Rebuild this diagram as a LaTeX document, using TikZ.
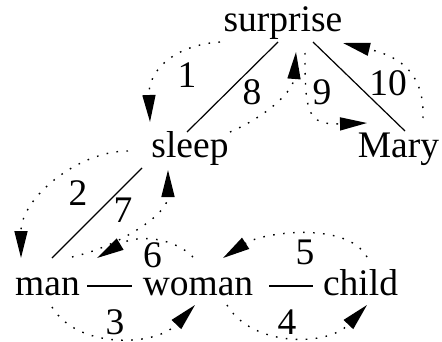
\documentclass[tikz,border=0pt]{standalone}
\usepackage{fontspec}
\setmainfont{Liberation Serif}
\usetikzlibrary{arrows.meta}
\begin{document}
\begin{tikzpicture}[x=1pt,y=1pt,
  word/.style={anchor=base,inner sep=0pt,font=\fontsize{37.5}{40}\selectfont},
  num/.style={inner sep=0pt,font=\fontsize{37.5}{40}\selectfont},
  link/.style={line width=1.2pt},
  move/.style={line width=1.4pt,dash pattern=on 1.6pt off 8.4pt,-{Triangle[length=27pt,width=13pt]}}]
\useasboundingbox (0,0) rectangle (442,341);
% words
\node[word] (surprise) at (283,309) {surprise};
\node[word] (sleep) at (190,184) {sleep};
\node[word] (Mary) at (398.5,184) {Mary};
\node[word] (man) at (47.5,46) {man};
\node[word] (woman) at (198,46) {woman};
\node[word] (child) at (360.5,46) {child};
% solid links
\draw[link] ([shift={(-5,-10)}]surprise.base) -- ([shift={(-3,25)}]sleep.base);
\draw[link] ([shift={(30,-10)}]surprise.base) -- ([shift={(6.5,26)}]Mary.base);
\draw[link] ([shift={(-48,-11)}]sleep.base) -- ([shift={(4.5,37)}]man.base);
\draw[link] ([shift={(39.5,9)}]man.base) -- ([shift={(-66,9)}]woman.base);
\draw[link] ([shift={(71,9)}]woman.base) -- ([shift={(-47.5,9)}]child.base);
% dotted moves
\draw[move] ([shift={(-63,-10)}]surprise.base) .. controls +(-45,-3) and +(-2,52) .. ([shift={(-40,35)}]sleep.base);
\draw[move] ([shift={(-62,6)}]sleep.base) .. controls +(-50,0) and +(0,60) .. ([shift={(-26.5,37)}]man.base);
\draw[move] ([shift={(4.5,-12)}]man.base) .. controls +(25,-42) and +(-40,-42) .. ([shift={(-3,-10)}]woman.base);
\draw[move] ([shift={(29,-10)}]woman.base) .. controls +(25,-42) and +(-40,-42) .. ([shift={(6.5,-10)}]child.base);
\draw[move] ([shift={(6.5,38)}]child.base) .. controls +(-20,36) and +(40,26) .. ([shift={(25,37)}]woman.base);
\draw[move] ([shift={(-5,38)}]woman.base) .. controls +(-20,20) and +(40,24) .. ([shift={(49.5,37)}]man.base);
\draw[move] ([shift={(24.5,38)}]man.base) .. controls +(45,10) and +(0,-45) .. ([shift={(-22,-13)}]sleep.base);
\draw[move] ([shift={(40,25)}]sleep.base) .. controls +(35,15) and +(-3,-40) .. ([shift={(13,-20)}]surprise.base);
\draw[move] ([shift={(22,-21)}]surprise.base) .. controls +(0,-60) and +(-60,-2) .. ([shift={(-31.5,34)}]Mary.base);
\draw[move] ([shift={(24.5,39)}]Mary.base) .. controls +(2,50) and +(50,-12) .. ([shift={(60,-11)}]surprise.base);
% labels
\node[num] (l1) at (187,266) {1};
\node[num] (l2) at (78,148) {2};
\node[num] (l3) at (115,19) {3};
\node[num] (l4) at (287,19) {4};
\node[num] (l5) at (305,89) {5};
\node[num] (l6) at (152.5,86) {6};
\node[num] (l7) at (123,131) {7};
\node[num] (l8) at (252,249) {8};
\node[num] (l9) at (322,249) {9};
\node[num] (l10) at (388,258) {10};
\end{tikzpicture}
\end{document}
